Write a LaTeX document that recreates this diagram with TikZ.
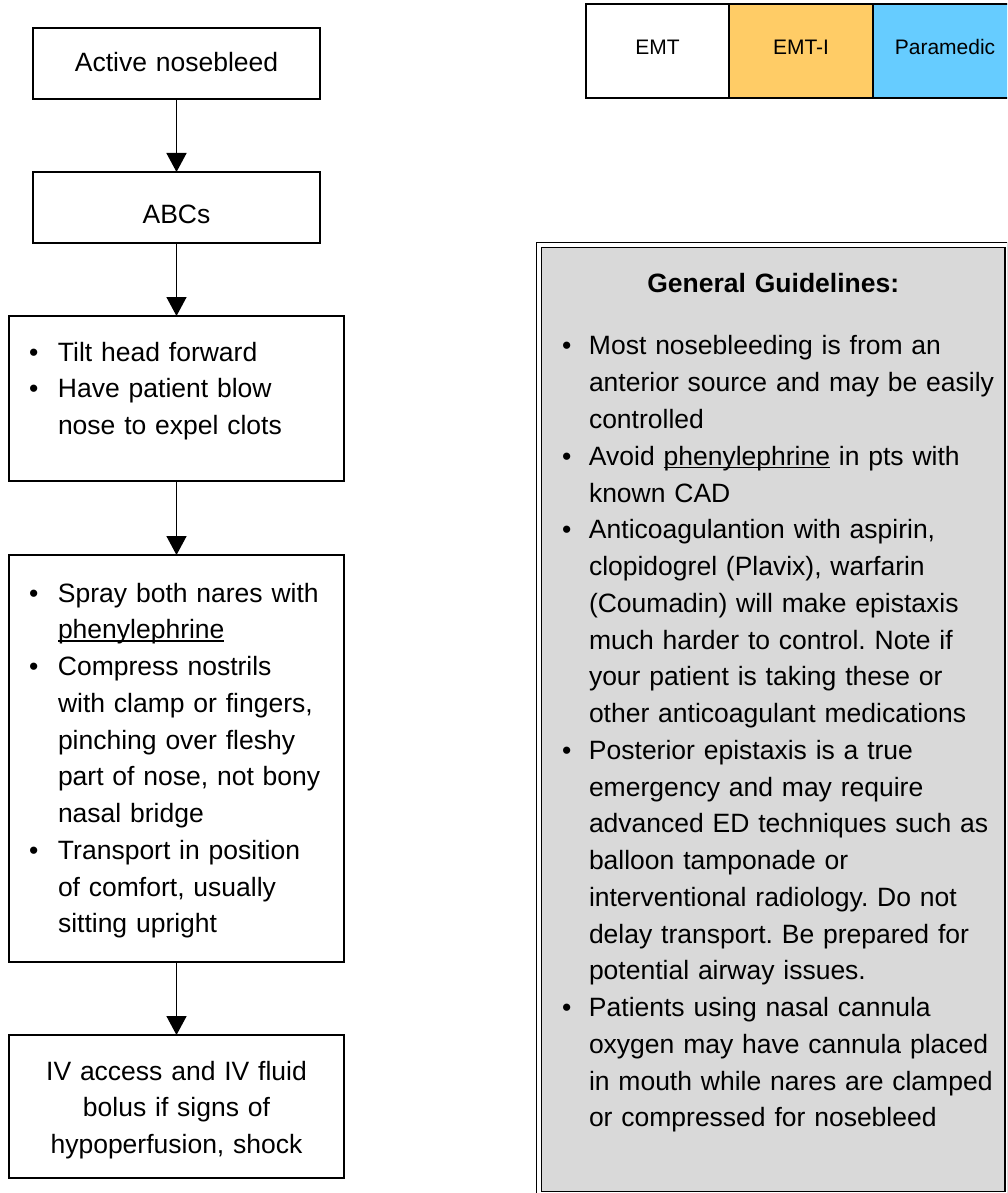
\documentclass[tikz,border=0pt]{standalone}
\usepackage{fontspec}
\setmainfont{Liberation Sans}
\usetikzlibrary{arrows.meta,positioning}
\frenchspacing

\definecolor{emtiorange}{HTML}{FFCC66}
\definecolor{parablue}{HTML}{66CCFF}

\newcommand{\bul}[2][29pt]{\noindent\hangindent=#1\hangafter=1\makebox[#1][l]{\textbullet}\mbox{#2}}
\newcommand{\nxt}[1]{\newline\mbox{#1}}
\newcommand{\undl}[1]{\setbox0=\hbox{#1}\rlap{\rule[-3pt]{\wd0}{1.3pt}}\box0\relax}

\begin{document}
\begin{tikzpicture}[x=1pt, y=-1pt,
    box/.style={draw, line width=1.7pt, outer sep=0pt, inner xsep=20pt, inner ysep=0pt, anchor=north, text width=295pt, font=\fontsize{26.5}{36.76}\selectfont},
    sbox/.style={box, inner xsep=10pt, text width=267pt, align=center},
    lvl/.style={draw, line width=2.4pt, minimum width=143.5pt, minimum height=94pt, text height=14pt, text depth=6pt, font=\fontsize{21}{25}\selectfont},
    guide/.style={draw, fill=gray!30, double, double distance=3.3pt, line width=1.5pt, outer sep=0pt, anchor=north west, inner xsep=23pt, inner ysep=0pt, text width=422.5pt, font=\fontsize{26.5}{36.76}\selectfont},
    arr/.style={line width=1.6pt, -{Triangle[width=20pt,length=19pt]}}]
    \useasboundingbox (0,0) rectangle (1007,1193);
    \clip (0,0) rectangle (1007,1193);

    % Levels
    \node[lvl] (emt) at (657.5,51) {EMT};
    \node[lvl, fill=emtiorange] (emti) at (801,51) {EMT-I};
    \node[lvl, fill=parablue] (para) at (945,51) {Paramedic};

    % Steps
    \node[sbox, text height=44pt, text depth=27pt] (nose) at (176.5,28) {Active nosebleed};
    \node[sbox, text height=51pt, text depth=20pt] (abc) at (176.5,172) {ABCs};
    \node[box, text height=45pt, text depth=120pt] (tilt) at (176.5,316) {%
        \bul{Tilt head forward}\par
        \bul{Have patient blow}\nxt{nose to expel clots}\par};
    \node[box, text height=47pt, text depth=360pt] (spray) at (176.5,555) {%
        \bul{Spray both nares with}\nxt{\undl{phenylephrine}}\par
        \bul{Compress nostrils}\nxt{with clamp or fingers,}\nxt{pinching over fleshy}\nxt{part of nose, not bony}\nxt{nasal bridge}\par
        \bul{Transport in position}\nxt{of comfort, usually}\nxt{sitting upright}\par};
    \node[box, align=center, text height=45pt, text depth=98pt] (iv) at (176.5,1035) {IV access and IV fluid\\bolus if signs of\\hypoperfusion, shock};

    % Arrows
    \draw[arr] (nose) -- (abc);
    \draw[arr] (abc) -- (tilt);
    \draw[arr] (tilt) -- (spray);
    \draw[arr] (spray) -- (iv);

    % General guidelines
    \node[guide, text height=47pt, text depth=902pt] (gen) at (539,245) {%
        {\centering\textbf{General Guidelines:}\par}\vspace{26.2pt}
        \bul[27pt]{Most nosebleeding is from an}\nxt{anterior source and may be easily}\nxt{controlled}\par
        \bul[27pt]{Avoid \undl{phenylephrine} in pts with}\nxt{known CAD}\par
        \bul[27pt]{Anticoagulantion with aspirin,}\nxt{clopidogrel (Plavix), warfarin}\nxt{(Coumadin) will make epistaxis}\nxt{much harder to control. Note if}\nxt{your patient is taking these or}\nxt{other anticoagulant medications}\par
        \bul[27pt]{Posterior epistaxis is a true}\nxt{emergency and may require}\nxt{advanced ED techniques such as}\nxt{balloon tamponade or}\nxt{interventional radiology. Do not}\nxt{delay transport. Be prepared for}\nxt{potential airway issues.}\par
        \bul[27pt]{Patients using nasal cannula}\nxt{oxygen may have cannula placed}\nxt{in mouth while nares are clamped}\nxt{or compressed for nosebleed}\par};
\end{tikzpicture}
\end{document}
